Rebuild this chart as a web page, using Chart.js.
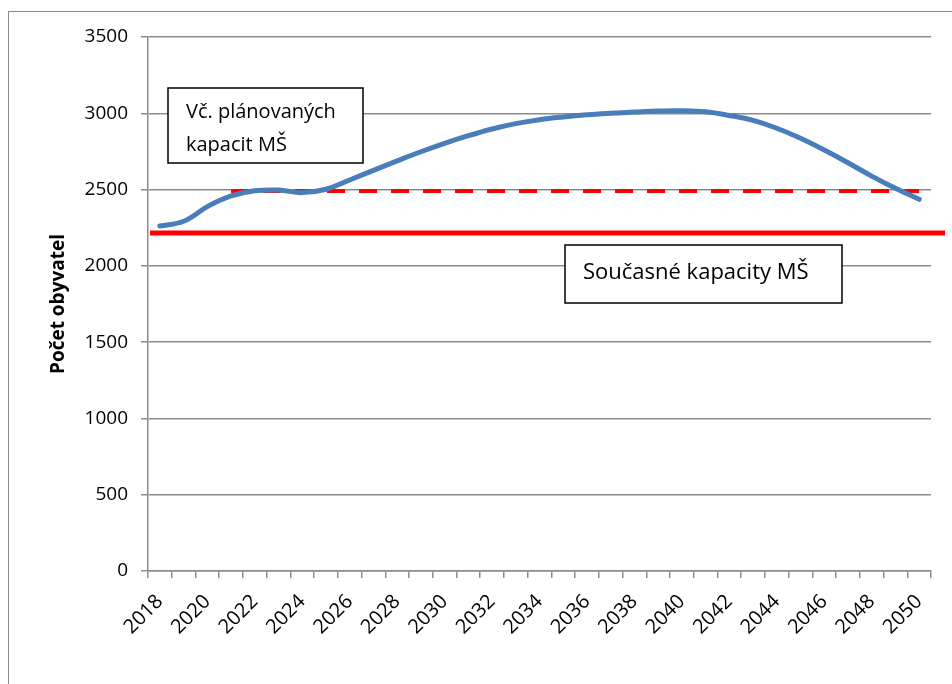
<!DOCTYPE html>
<html>
<head>
<meta charset="utf-8">
<script src="https://cdn.jsdelivr.net/npm/chart.js@4/dist/chart.umd.min.js"></script>
<style>
  html, body { margin: 0; padding: 0; background: #fff; }
  #frame { position: absolute; left: 8px; top: 11px; width: 1000px; height: 800px; border: 1px solid #8c8c8c; }
  #c { position: absolute; left: 0; top: 0; }
</style>
</head>
<body>
<div id="frame"></div>
<canvas id="c" width="952" height="684"></canvas>
<script>
// ---- data ----
const years = [2018,2019,2020,2021,2022,2023,2024,2025,2026,2027,2028,2029,2030,2031,2032,2033,2034,2035,2036,2037,2038,2039,2040,2041,2042,2043,2044,2045,2046,2047,2048,2049,2050];
const population = [2261,2292,2388,2458,2492,2497,2480,2502,2563,2626,2688,2748,2803,2853,2897,2932,2958,2976,2990,3000,3008,3015,3017,3010,2986,2954,2902,2836,2759,2676,2588,2508,2436];
const plannedCapacityStart = 2021;
const plannedCapacity = 2490;
const currentCapacity = 2215;
const yTicks = [0,500,1000,1500,2000,2500,3000,3500];
const yTitle = 'Počet obyvatel';
const labelPlanned = ['Vč. plánovaných', 'kapacit MŠ'];
const labelCurrent = ['Současné kapacity MŠ'];

const plannedSeries = years.map(y => y >= plannedCapacityStart ? plannedCapacity : null);

const FONT = '"Open Sans", "Noto Sans", sans-serif';
const GRID = '#8c8c8c';

const overlay = {
  id: 'overlay',
  beforeDatasetsDraw(chart) {
    const {ctx, chartArea, scales} = chart;
    const y = scales.y.getPixelForValue(currentCapacity);
    ctx.save();
    ctx.strokeStyle = '#ff0000';
    ctx.lineWidth = 5;
    ctx.beginPath();
    ctx.moveTo(chartArea.left + 2, y);
    ctx.lineTo(chartArea.right + 14, y);
    ctx.stroke();
    ctx.restore();
  },
  afterDatasetsDraw(chart) {
    const {ctx} = chart;
    function box(x, y, w, h, lines, tx, ty, lh, size) {
      ctx.save();
      ctx.fillStyle = '#fff';
      ctx.fillRect(x, y, w, h);
      ctx.strokeStyle = '#000';
      ctx.lineWidth = 1.5;
      ctx.strokeRect(x, y, w, h);
      ctx.fillStyle = '#000';
      ctx.font = size + 'px ' + FONT;
      ctx.textBaseline = 'middle';
      ctx.textAlign = 'left';
      lines.forEach((t, i) => ctx.fillText(t, tx, ty + i * lh));
      ctx.restore();
    }
    box(168, 88, 195, 75, labelPlanned, 186, 112, 33, 20);
    box(565, 245, 277, 58, labelCurrent, 583, 273, 30, 22);
  }
};

new Chart(document.getElementById('c'), {
  type: 'line',
  data: {
    labels: years,
    datasets: [
      {
        label: 'Vč. plánovaných kapacit MŠ',
        data: plannedSeries,
        borderColor: '#ff0000',
        borderWidth: 4,
        borderDash: [18, 14],
        pointRadius: 0,
        fill: false,
        tension: 0,
        order: 2
      },
      {
        label: 'Počet obyvatel',
        data: population,
        borderColor: '#4a7ebb',
        borderWidth: 5,
        pointRadius: 0,
        fill: false,
        tension: 0.4,
        borderCapStyle: 'round',
        order: 1
      }
    ]
  },
  options: {
    responsive: false,
    animation: false,
    events: [],
    layout: { padding: { left: 0, top: 37, right: 21, bottom: 0 } },
    plugins: { legend: { display: false }, tooltip: { enabled: false } },
    scales: {
      x: {
        type: 'category',
        offset: true,
        grid: { offset: true, drawOnChartArea: false, drawTicks: true, tickLength: 7, color: GRID, lineWidth: 1.5 },
        border: { color: GRID, width: 1.5 },
        ticks: {
          autoSkip: false,
          maxRotation: 45,
          minRotation: 45,
          color: '#000',
          font: { family: FONT, size: 20 },
          padding: 12,
          callback: function(v, i) { const yr = years[i]; return (yr % 2 === 0) ? String(yr) : ''; }
        },
        afterFit(scale) { scale.height = 113; }
      },
      y: {
        min: 0,
        max: 3500,
        afterBuildTicks(scale) { scale.ticks = yTicks.map(v => ({ value: v })); },
        grid: { color: GRID, lineWidth: 1.5, tickLength: 7 },
        border: { color: GRID, width: 1.5 },
        ticks: { color: '#000', font: { family: FONT, size: 19 }, padding: 13, callback: v => String(v) },
        title: { display: true, text: yTitle, color: '#000', font: { family: FONT, size: 19, weight: 'bold' }, padding: { top: 47, bottom: 0 } },
        afterFit(scale) { scale.width = 148; }
      }
    }
  },
  plugins: [overlay]
});
</script>
</body>
</html>
